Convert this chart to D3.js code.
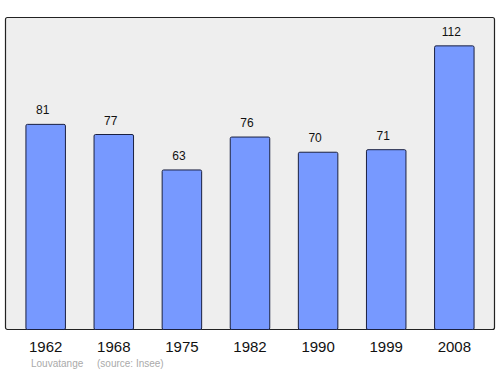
<!DOCTYPE html>
<html>
<head>
<meta charset="utf-8">
<script src="https://cdn.jsdelivr.net/npm/d3@7"></script>
<style>
  body { margin: 0; background: #fff; }
  svg { display: block; font-family: "Liberation Sans", Arial, sans-serif; }
</style>
</head>
<body>
<div id="graf"></div>
<script>
// datos
annees = ['1962', '1968', '1975', '1982', '1990', '1999', '2008']
population = [81, 77, 63, 76, 70, 71, 112]
commune = 'Louvatange'
source = '(source: Insee)'

// configuración
ancho_total = 500
alto_total = 374
marco = { left: 5.5, top: 17.5, right: 494.5, bottom: 329.5 }

svg = d3.select('#graf').append('svg')
        .attr('width', ancho_total)
        .attr('height', alto_total)

x = d3.scaleBand()
      .domain(annees)
      .range([marco.left, marco.right])
      .paddingInner(0.42)
      .paddingOuter(0.3)

y = d3.scaleLinear()
      .domain([0, d3.max(population) * 1.1])
      .range([marco.bottom, marco.top])

// fondo
svg.append('rect')
   .attr('x', marco.left)
   .attr('y', marco.top)
   .attr('width', marco.right - marco.left)
   .attr('height', marco.bottom - marco.top)
   .attr('rx', 2)
   .style('fill', '#eeeeee')
   .style('stroke', '#222')
   .style('stroke-width', 1.2)

datos = annees.map((a, i) => ({ annee: a, pop: population[i] }))

// barras
svg.selectAll('rect.barra')
   .data(datos)
   .enter()
   .append('rect')
   .attr('class', 'barra')
   .attr('x', d => x(d.annee))
   .attr('y', d => y(d.pop))
   .attr('width', x.bandwidth())
   .attr('height', d => marco.bottom - y(d.pop))
   .attr('rx', 1.5)
   .style('fill', '#7799ff')
   .style('stroke', '#1a2040')
   .style('stroke-width', 1)

// valores (un poco corridos a la izquierda, como en el original)
svg.selectAll('text.valor')
   .data(datos)
   .enter()
   .append('text')
   .attr('class', 'valor')
   .attr('x', d => x(d.annee) + x.bandwidth() / 2 - 3)
   .attr('y', d => y(d.pop) - 10)
   .attr('text-anchor', 'middle')
   .style('font-size', '12px')
   .style('fill', '#111')
   .text(d => d.pop)

// eje x
xAxis = d3.axisBottom(x).tickSize(0).tickPadding(12)
gx = svg.append('g')
        .attr('transform', `translate(0, ${ marco.bottom })`)
        .call(xAxis)
gx.select('.domain').remove()
gx.selectAll('text')
  .style('font-size', '15px')
  .style('fill', '#111')
  .style('font-family', '"Liberation Sans", Arial, sans-serif')

// fuente
svg.append('text')
   .attr('x', 31)
   .attr('y', 367)
   .style('font-size', '10px')
   .style('fill', '#aaaaaa')
   .text(commune)

svg.append('text')
   .attr('x', 97)
   .attr('y', 367)
   .style('font-size', '10px')
   .style('fill', '#aaaaaa')
   .text(source)
</script>
</body>
</html>
